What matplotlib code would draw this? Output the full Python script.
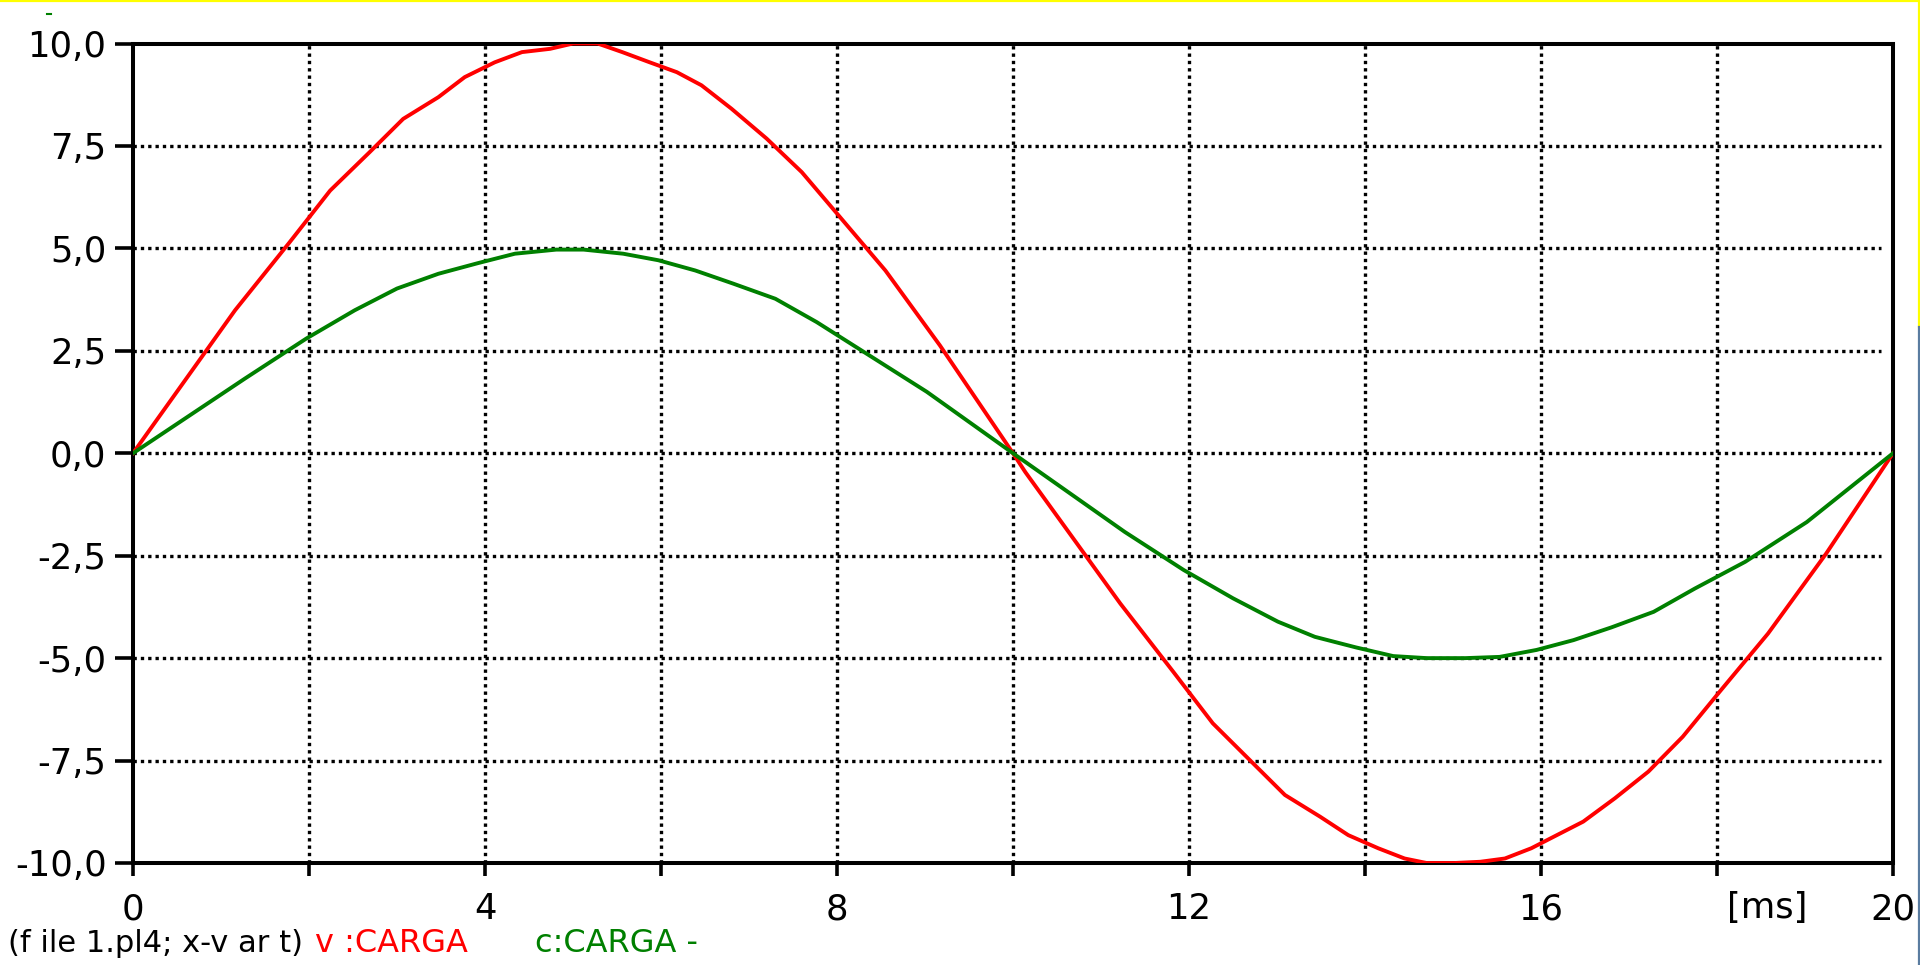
import numpy as np
import matplotlib
matplotlib.use("Agg")
import matplotlib.pyplot as plt
from matplotlib.lines import Line2D

plt.rcParams['font.family'] = ['DejaVu Sans']

# v:CARGA samples (time in ms, volts)
t_v = [0.00, 1.16, 1.78, 2.24, 2.69, 3.07, 3.47, 3.77, 4.11, 4.42, 4.74, 5.00,
       5.28, 5.56, 5.86, 6.18, 6.46, 6.80, 7.20, 7.60, 8.00, 8.55, 9.17, 10.00,
       10.14, 11.22, 11.82, 12.27, 13.09, 13.49, 13.81, 14.15, 14.45, 14.70,
       15.02, 15.31, 15.59, 15.89, 16.18, 16.48, 16.84, 17.22, 17.61, 18.03,
       18.58, 19.24, 20.00]
v_carga = [0.0, 3.49, 5.15, 6.41, 7.35, 8.16, 8.69, 9.18, 9.54, 9.79, 9.87, 10.0,
           10.0, 9.79, 9.55, 9.30, 8.98, 8.41, 7.68, 6.86, 5.85, 4.46, 2.63, 0.0,
           -0.46, -3.67, -5.33, -6.59, -8.34, -8.87, -9.32, -9.64, -9.89, -10.0,
           -10.0, -9.97, -9.89, -9.64, -9.32, -8.99, -8.42, -7.77, -6.92, -5.82,
           -4.40, -2.45, 0.0]

# c:CARGA samples
t_c = [0.00, 1.27, 1.97, 2.52, 3.00, 3.47, 3.92, 4.34, 4.81, 5.12, 5.57, 5.97,
       6.39, 6.82, 7.30, 7.77, 9.02, 10.00, 11.27, 11.94, 12.50, 13.01, 13.43,
       13.90, 14.32, 14.70, 15.14, 15.53, 15.95, 16.37, 16.80, 17.28, 17.75,
       18.32, 19.02, 20.00]
c_carga = [0.0, 1.82, 2.80, 3.49, 4.02, 4.38, 4.64, 4.87, 4.97, 4.97, 4.87, 4.71,
           4.46, 4.14, 3.77, 3.20, 1.50, 0.0, -1.92, -2.85, -3.54, -4.11, -4.48,
           -4.74, -4.95, -5.0, -5.0, -4.97, -4.80, -4.56, -4.25, -3.87, -3.30,
           -2.65, -1.68, 0.0]

x_ticks = [0, 2, 4, 6, 8, 10, 12, 14, 16, 18, 20]
x_labels = ['0', '', '4', '', '8', '', '12', '', '16', '', '20']
y_ticks = [-10.0, -7.5, -5.0, -2.5, 0.0, 2.5, 5.0, 7.5, 10.0]
y_labels = ['-10,0', '-7,5', '-5,0', '-2,5', '0,0', '2,5', '5,0', '7,5', '10,0']

fig = plt.figure(figsize=(19.2, 9.65), dpi=100)
ax = fig.add_axes([133 / 1920, 1 - 863 / 965, 1760 / 1920, 819.5 / 965])

ax.plot(t_v, v_carga, color='#ff0000', lw=2.8, zorder=3)
ax.plot(t_c, c_carga, color='#008000', lw=2.8, zorder=3)

ax.set_xlim(0, 20)
ax.set_ylim(-10, 10)
ax.set_xticks(x_ticks)
ax.set_xticklabels(x_labels)
ax.set_yticks(y_ticks)
ax.set_yticklabels(y_labels)

# dotted grid, no lines on the frame itself
for x in x_ticks[1:-1]:
    ax.axvline(x, color='black', lw=2.4, dashes=(1, 1.2), dash_capstyle='butt', zorder=1)
for y in y_ticks[1:-1]:
    ax.axhline(y, xmax=0.993, color='black', lw=2.4, dashes=(1, 1.2), dash_capstyle='butt', zorder=1)

for s in ax.spines.values():
    s.set_linewidth(2.9)
ax.tick_params(axis='x', direction='out', length=9, width=2.6, pad=12, labelsize=25.5)
ax.tick_params(axis='y', direction='out', length=13, width=2.6, pad=6, labelsize=25.5)

# time unit sits just right of the 18 ms tick
fig.text(1767 / 1920, 1 - 908 / 965, '[ms]', fontsize=25.5, ha='center', va='center')

# footer legend line
fy = 1 - 943 / 965
fig.text(8 / 1920, fy, '(f ile 1.pl4; x-v ar t)', fontsize=22, va='center', ha='left')
fig.text(315 / 1920, fy, 'v :CARGA', fontsize=23, va='center', ha='left', color='#ff0000')
fig.text(535 / 1920, fy, 'c:CARGA -', fontsize=23, va='center', ha='left', color='#008000')

# window frame
fig.add_artist(Line2D([0, 1], [1 - 1 / 965, 1 - 1 / 965], color='#ffff00', lw=1.6))
fig.add_artist(Line2D([1 - 1 / 1920, 1 - 1 / 1920], [1, 1 - 327 / 965], color='#ffff00', lw=1.6))
fig.add_artist(Line2D([1 - 1 / 1920, 1 - 1 / 1920], [1 - 327 / 965, 0], color='#5a7ca0', lw=1.6))
fig.add_artist(Line2D([47 / 1920, 51 / 1920], [1 - 14 / 965, 1 - 14 / 965], color='#008000', lw=1.5))

fig.savefig('out.png', dpi=100)
